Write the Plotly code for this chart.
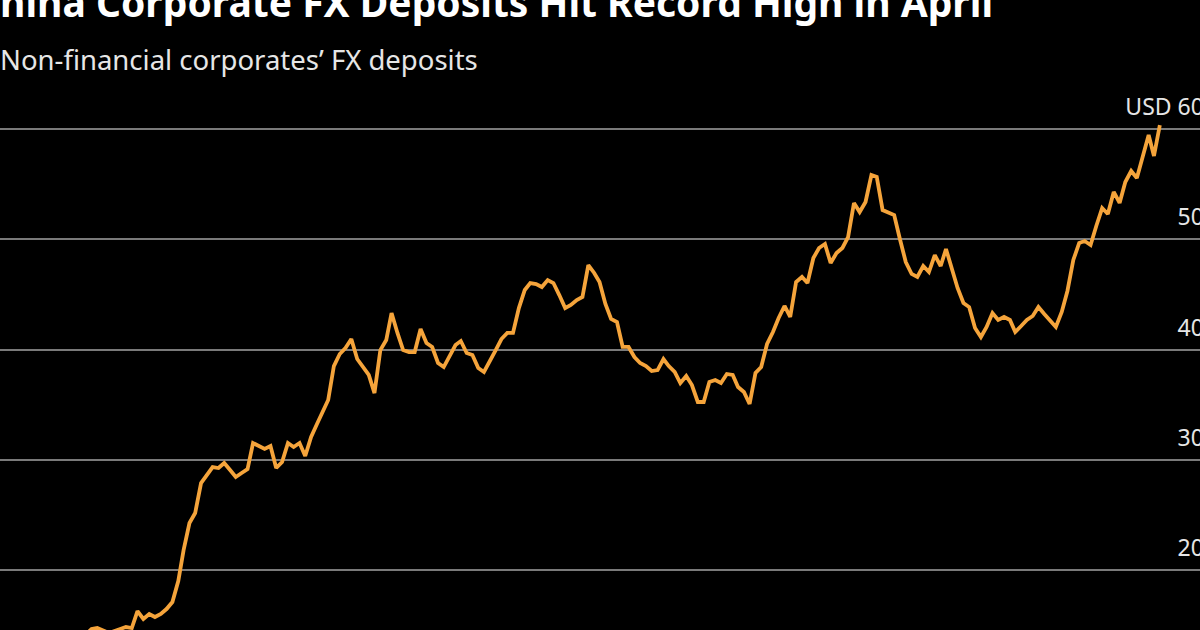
import pandas as pd
import plotly.graph_objects as go

# ---- data (USD bn) ----
start_month = "2005-09-01"
month_offsets = [
    0, 2, 3, 4, 5, 7, 8, 9, 10, 11, 12, 13, 14, 15, 16, 17, 18, 19, 20, 21,
    22, 23, 24, 25, 26, 27, 28, 29, 30, 31, 32, 33, 34, 35, 36, 37, 38, 39, 40, 41,
    42, 43, 44, 45, 46, 47, 48, 49, 50, 51, 52, 53, 54, 55, 56, 57, 58, 59, 60, 61,
    62, 63, 64, 65, 66, 67, 68, 69, 70, 71, 72, 73, 74, 75, 76, 77, 78, 79, 80, 81,
    82, 83, 84, 85, 86, 87, 88, 89, 90, 91, 92, 93, 94, 95, 96, 97, 98, 99, 100, 101,
    102, 103, 104, 105, 106, 107, 108, 109, 110, 111, 112, 113, 114, 115, 116, 117, 118, 119, 120, 121,
    122, 123, 124, 125, 126, 127, 128, 129, 130, 131, 132, 133, 134, 135, 136, 137, 138, 139, 140, 141,
    142, 143, 144, 145, 146, 147, 148, 149, 150, 151, 152, 153, 154, 155, 156, 157, 158, 159, 160, 161,
    162, 163, 164, 165, 166, 167, 169, 170, 171, 172, 173, 174, 175, 176, 177, 178, 179, 180, 181, 182,
    183, 185, 186, 187,
]
deposits = [
    136.5, 146.5, 147.4, 144.7, 142.9, 146.5, 148.3, 147.4, 162.8, 155.6, 160.1, 157.4, 160.1, 164.6, 171.0, 190.0, 218.1, 242.6, 251.7, 278.9,
    286.2, 293.4, 292.5, 297.1, 290.7, 284.4, 288.0, 291.6, 315.2, 312.5, 309.8, 312.5, 292.5, 298.0, 315.2, 311.6, 315.2, 303.4, 320.6, 332.4,
    343.3, 354.2, 385.0, 395.9, 401.4, 409.5, 391.4, 384.1, 376.9, 360.5, 399.5, 408.6, 433.1, 415.0, 399.5, 397.7, 397.7, 418.6, 405.9, 402.3,
    387.8, 384.1, 394.1, 404.1, 407.7, 396.8, 395.0, 383.2, 379.6, 390.5, 399.5, 409.5, 415.0, 415.0, 437.6, 454.0, 460.3, 459.4, 456.7, 463.0,
    460.3, 449.4, 437.6, 440.4, 444.9, 447.6, 476.6, 469.4, 461.2, 441.3, 427.7, 424.9, 402.3, 402.3, 393.2, 387.8, 385.0, 380.5, 381.4, 391.4,
    385.0, 379.6, 369.6, 376.0, 367.8, 352.4, 352.4, 370.5, 372.3, 369.6, 377.8, 376.9, 366.0, 361.5, 350.6, 378.7, 384.1, 405.0, 415.9, 428.6,
    439.5, 429.5, 461.2, 465.8, 460.3, 483.0, 492.1, 495.7, 478.5, 487.5, 492.1, 502.0, 532.9, 524.7, 533.8, 558.3, 556.5, 526.5, 524.7, 522.0,
    500.2, 479.4, 468.5, 465.8, 475.7, 470.3, 485.7, 475.7, 491.2, 472.1, 455.8, 442.2, 438.5, 419.5, 411.3, 420.4, 433.1, 426.8, 429.5, 426.8,
    415.9, 421.3, 426.8, 430.4, 438.5, 432.2, 420.4, 434.0, 453.1, 481.2, 496.6, 498.4, 494.8, 512.0, 528.3, 522.9, 542.9, 532.9, 551.9, 561.9,
    555.6, 594.6, 575.5, 603.6,
]
tick_values = [200, 300, 400, 500, 600]
tick_labels = ["200", "300", "400", "500", "USD 600"]

title_text = "China Corporate FX Deposits Hit Record High in April"
subtitle_text = "Non-financial corporates\u2019 FX deposits"

# ---- build ----
start = pd.Timestamp(start_month)
dates = [start + pd.DateOffset(months=m) for m in month_offsets]
day_per_month = 30.437
x_left = start - pd.Timedelta(days=13.85 * day_per_month)
x_right = start + pd.Timedelta(days=193.93 * day_per_month)

fig = go.Figure()
fig.add_trace(go.Scatter(
    x=dates, y=deposits, mode="lines",
    line=dict(color="#F5A43B", width=3.8),
    hoverinfo="skip", showlegend=False,
))

FONT = "Noto Sans"
fig.update_layout(
    width=1200, height=630,
    margin=dict(l=0, r=0, t=0, b=0),
    paper_bgcolor="#000000", plot_bgcolor="#000000",
    xaxis=dict(visible=False, range=[x_left, x_right], automargin=False),
    yaxis=dict(
        range=[145.6, 717.0],
        side="right",
        automargin=False,
        tickvals=tick_values, ticktext=tick_labels,
        ticklabelposition="inside",
        ticklabelshift=-22,
        ticklabelstandoff=-20,
        tickfont=dict(family=FONT, size=23, color="#e6e6e6"),
        showgrid=True, gridcolor="#7a7a7a", gridwidth=1.6,
        zeroline=False, showline=False, ticks="",
    ),
    annotations=[
        dict(text="<b>" + title_text + "</b>", xref="paper", yref="paper",
             x=-27 / 1200, y=1 - 2 / 630, xanchor="left", yanchor="middle",
             showarrow=False, font=dict(family=FONT, size=39, color="#ffffff")),
        dict(text=subtitle_text, xref="paper", yref="paper",
             x=-2 / 1200, y=1 - 59 / 630, xanchor="left", yanchor="middle",
             showarrow=False, font=dict(family=FONT, size=27.5, color="#e6e6e6")),
    ],
)

fig.write_html("out.html")
